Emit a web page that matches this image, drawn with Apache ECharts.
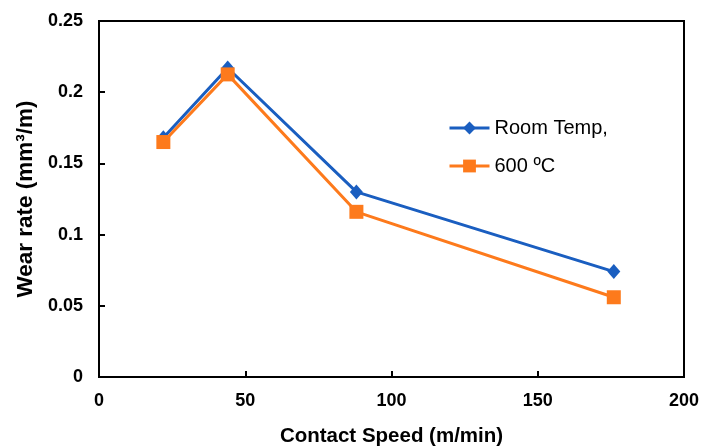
<!DOCTYPE html>
<html>
<head>
<meta charset="utf-8">
<script src="https://cdn.jsdelivr.net/npm/echarts@6/dist/echarts.min.js"></script>
<style>html,body{margin:0;padding:0;background:#fff}#c{width:702px;height:448px}</style>
</head>
<body>
<div id="c"></div>
<script>
var speeds = [22, 44, 88, 176];
var roomTemp = [0.168, 0.217, 0.130, 0.074];
var temp600 = [0.165, 0.2125, 0.116, 0.056];
var seriesNames = ['Room Temp,', '600 \u00BAC'];
var xTicks = [0, 50, 100, 150, 200];
var yTicks = [0, 0.05, 0.1, 0.15, 0.2, 0.25];

function pairs(xs, ys) { return xs.map(function (x, i) { return [x, ys[i]]; }); }

var font = '"Liberation Sans", Arial, sans-serif';
var blue = '#1a5ec0';
var orange = '#fd7a1c';
var chart = echarts.init(document.getElementById('c'));
chart.setOption({
  animation: false,
  grid: { left: 99, right: 18, top: 21, bottom: 71, show: true, borderColor: '#000', borderWidth: 2,
    backgroundColor: 'transparent', containLabel: false, outerBoundsMode: 'none' },
  legend: {
    orient: 'vertical', left: 443, top: 113,
    itemWidth: 40, itemHeight: 16, itemGap: 18,
    lineStyle: { width: 3 },
    textStyle: { fontFamily: font, fontSize: 20, color: '#000' },
    data: seriesNames
  },
  xAxis: {
    type: 'value', min: 0, max: 200, interval: 50,
    name: 'Contact Speed (m/min)', nameLocation: 'middle', nameGap: 49,
    nameTextStyle: { fontFamily: font, fontSize: 20.5, fontWeight: 'bold', color: '#000' },
    axisLine: { show: true, lineStyle: { color: '#000', width: 2 } },
    axisTick: { show: true, inside: true, length: 6, lineStyle: { color: '#000', width: 2 } },
    axisLabel: { fontFamily: font, fontSize: 18, fontWeight: 'bold', color: '#000', margin: 15 },
    splitLine: { show: false }
  },
  yAxis: {
    type: 'value', min: 0, max: 0.25, interval: 0.05,
    name: 'Wear rate (mm\u00B3/m)', nameLocation: 'middle', nameGap: 59, nameRotate: 90,
    nameTextStyle: { fontFamily: font, fontSize: 22.5, fontWeight: 'bold', color: '#000' },
    axisLine: { show: true, lineStyle: { color: '#000', width: 2 } },
    axisTick: { show: true, inside: true, length: 6, lineStyle: { color: '#000', width: 2 } },
    axisLabel: { fontFamily: font, fontSize: 18, fontWeight: 'bold', color: '#000', margin: 16,
      formatter: function (v) { return String(+v.toFixed(2)); } },
    splitLine: { show: false }
  },
  series: [
    { name: seriesNames[0], type: 'line', data: pairs(speeds, roomTemp),
      symbol: 'diamond', symbolSize: [13, 15], color: blue,
      lineStyle: { width: 3, color: blue }, itemStyle: { color: blue } },
    { name: seriesNames[1], type: 'line', data: pairs(speeds, temp600),
      symbol: 'rect', symbolSize: 14, color: orange,
      lineStyle: { width: 3, color: orange }, itemStyle: { color: orange } }
  ]
});
</script>
</body>
</html>
